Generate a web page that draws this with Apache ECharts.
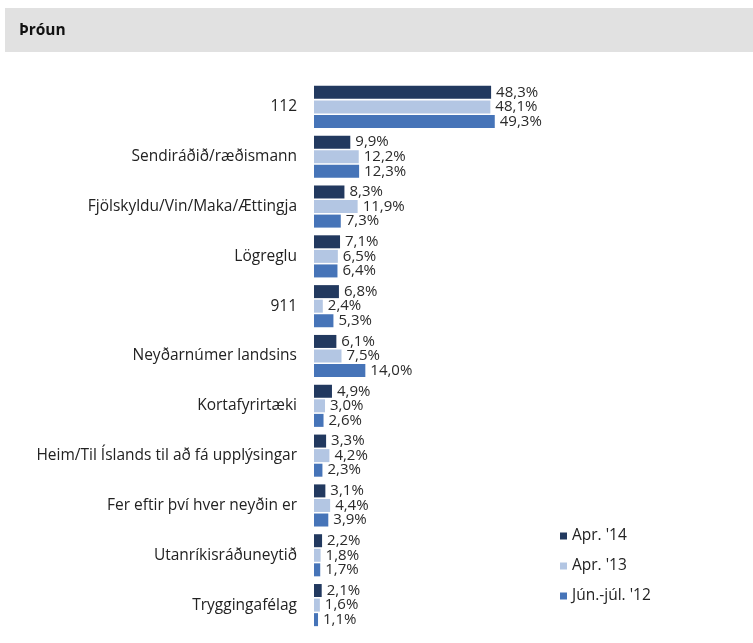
<!DOCTYPE html>
<html>
<head>
<meta charset="utf-8">
<script src="https://cdn.jsdelivr.net/npm/echarts@6/dist/echarts.min.js"></script>
<style>
  html, body { margin: 0; padding: 0; background: #fff; }
  #chart { width: 753px; height: 643px; }
</style>
</head>
<body>
<div id="chart"></div>
<script>
const categories = [
  "112",
  "Sendiráðið/ræðismann",
  "Fjölskyldu/Vin/Maka/Ættingja",
  "Lögreglu",
  "911",
  "Neyðarnúmer landsins",
  "Kortafyrirtæki",
  "Heim/Til Íslands til að fá upplýsingar",
  "Fer eftir því hver neyðin er",
  "Utanríkisráðuneytið",
  "Tryggingafélag",
];
const seriesNames = ["Apr. '14", "Apr. '13", "Jún.-júl. '12"];
const apr14 = [48.3, 9.9, 8.3, 7.1, 6.8, 6.1, 4.9, 3.3, 3.1, 2.2, 2.1];
const apr13 = [48.1, 12.2, 11.9, 6.5, 2.4, 7.5, 3.0, 4.2, 4.4, 1.8, 1.6];
const junjul12 = [49.3, 12.3, 7.3, 6.4, 5.3, 14.0, 2.6, 2.3, 3.9, 1.7, 1.1];
const colors = ["#22395f", "#b3c6e3", "#4674b8"];

const chart = echarts.init(document.getElementById("chart"));

const fmt = (p) => p.value.toFixed(1).replace(".", ",") + "%";

const makeSeries = (name, data, i) => ({
  name,
  type: "bar",
  data,
  barWidth: 13,
  barGap: "12%",
  itemStyle: { color: colors[i] },
  label: {
    show: true,
    position: "right",
    distance: 5,
    formatter: fmt,
    fontFamily: "Open Sans",
    fontSize: 15,
    color: "#2a2a2a",
  },
});

chart.setOption({
  animation: false,
  graphic: [
    {
      type: "rect",
      shape: { x: 5, y: 8, width: 748, height: 44 },
      style: { fill: "#e1e1e1" },
      silent: true,
    },
    {
      type: "text",
      left: 19,
      top: 23,
      style: {
        text: "Þróun",
        fontFamily: "Open Sans",
        fontWeight: "bold",
        fontSize: 15.5,
        fill: "#111",
      },
    },
  ],
  legend: {
    orient: "vertical",
    left: 555,
    top: 523,
    itemWidth: 7,
    itemHeight: 7,
    itemGap: 14,
    icon: "rect",
    textStyle: { fontFamily: "Open Sans", fontSize: 15.5, color: "#222" },
    data: seriesNames,
  },
  grid: {
    left: 314,
    top: 82,
    width: 220,
    height: 548,
    containLabel: false,
  },
  xAxis: {
    type: "value",
    min: 0,
    max: 60,
    show: false,
  },
  yAxis: {
    type: "category",
    inverse: true,
    data: categories,
    axisLine: { show: false },
    axisTick: { show: false },
    axisLabel: {
      margin: 17,
      fontFamily: "Open Sans",
      fontSize: 15.5,
      color: "#222",
    },
  },
  series: [
    makeSeries(seriesNames[0], apr14, 0),
    makeSeries(seriesNames[1], apr13, 1),
    makeSeries(seriesNames[2], junjul12, 2),
  ],
});
</script>
</body>
</html>
